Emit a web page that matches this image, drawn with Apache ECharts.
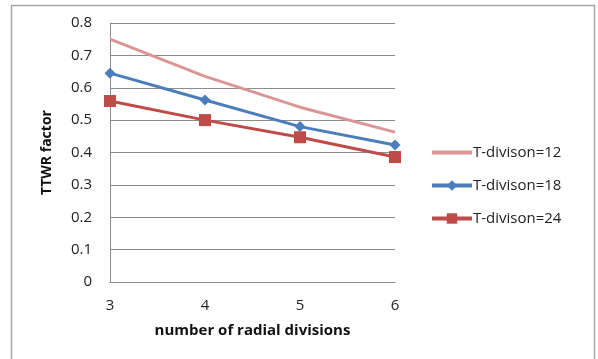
<!DOCTYPE html>
<html>
<head>
<meta charset="utf-8">
<script src="https://cdn.jsdelivr.net/npm/echarts@6/dist/echarts.min.js"></script>
<style>
  html, body { margin: 0; padding: 0; background: #fff; }
  #chart { width: 598px; height: 359px; }
</style>
</head>
<body>
<div id="chart"></div>
<script>
// Number of radial divisions (x positions)
const radialDivisions = [3, 4, 5, 6];
// TTWR factor for each T-division setting
const tDiv12 = [0.75, 0.635, 0.54, 0.463];
const tDiv18 = [0.645, 0.562, 0.48, 0.423];
const tDiv24 = [0.559, 0.50, 0.447, 0.386];
const seriesNames = ['T-divison=12', 'T-divison=18', 'T-divison=24'];

const pairs = vals => radialDivisions.map((x, i) => [x, vals[i]]);
const font = '"Open Sans", Lato, sans-serif';

const chart = echarts.init(document.getElementById('chart'), null, { renderer: 'canvas' });
chart.setOption({
  animation: false,
  textStyle: { fontFamily: font },
  graphic: [{
    type: 'rect',
    shape: { x: 11.5, y: 5.5, width: 583, height: 360 },
    style: { fill: 'none', stroke: '#a6a6a6', lineWidth: 1.5 },
    silent: true
  }],
  grid: { left: 110, right: 203, top: 23, bottom: 77 },
  xAxis: {
    type: 'value', min: 3, max: 6, interval: 1,
    name: 'number of radial divisions',
    nameLocation: 'middle', nameGap: 41,
    nameTextStyle: { fontWeight: 'bold', fontSize: 15, color: '#111', fontFamily: font },
    axisLine: { show: true, lineStyle: { color: '#8c8c8c', width: 1 } },
    axisTick: { show: false },
    splitLine: { show: false },
    axisLabel: { margin: 16, fontSize: 15, color: '#222', fontFamily: font }
  },
  yAxis: {
    type: 'value', min: 0, max: 0.8, interval: 0.1,
    name: 'TTWR factor',
    nameLocation: 'middle', nameGap: 56, nameRotate: 90,
    nameTextStyle: { fontWeight: 'bold', fontSize: 14, color: '#111', fontFamily: font },
    axisLine: { show: true, lineStyle: { color: '#8c8c8c', width: 1 } },
    axisTick: { show: false },
    splitLine: { show: true, lineStyle: { color: '#8c8c8c', width: 1 } },
    axisLabel: {
      margin: 18, fontSize: 15, color: '#222', fontFamily: font,
      formatter: v => (v === 0 ? '0' : v.toFixed(1))
    }
  },
  legend: {
    orient: 'vertical', left: 425, top: 140,
    itemWidth: 40, itemHeight: 13, itemGap: 18,
    textStyle: { fontSize: 15, color: '#222', fontFamily: font, padding: [0, 0, 0, -4] },
    data: [
      { name: seriesNames[0], itemStyle: { opacity: 0 }, lineStyle: { width: 4 } },
      { name: seriesNames[1], lineStyle: { width: 4 } },
      { name: seriesNames[2], lineStyle: { width: 4 } }
    ]
  },
  series: [
    {
      name: seriesNames[0], type: 'line', data: pairs(tDiv12),
      symbol: 'none', color: '#d99694',
      lineStyle: { width: 3, color: '#d99694' }
    },
    {
      name: seriesNames[1], type: 'line', data: pairs(tDiv18),
      symbol: 'diamond', symbolSize: 11, color: '#4a7ebb',
      itemStyle: { color: '#4a7ebb' },
      lineStyle: { width: 3, color: '#4a7ebb' }
    },
    {
      name: seriesNames[2], type: 'line', data: pairs(tDiv24),
      symbol: 'rect', symbolSize: 12, color: '#be4b48',
      itemStyle: { color: '#be4b48' },
      lineStyle: { width: 3, color: '#be4b48' }
    }
  ]
});
</script>
</body>
</html>
